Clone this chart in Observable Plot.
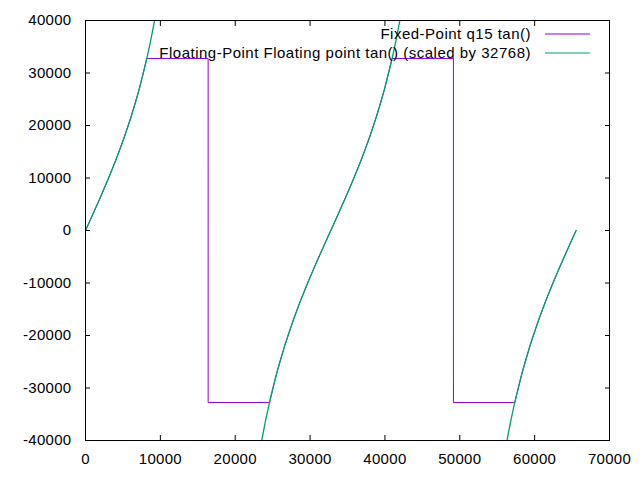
<!DOCTYPE html>
<html>
<head>
<meta charset="utf-8">
<script src="https://cdn.jsdelivr.net/npm/d3@7"></script>
<script src="https://cdn.jsdelivr.net/npm/@observablehq/plot@0.6"></script>
<style>
  html, body { margin: 0; padding: 0; background: #fff; }
  #chart svg { display: block; }
</style>
</head>
<body>
<div id="chart"></div>
<script>
// Tick values
const xTicks = [0, 10000, 20000, 30000, 40000, 50000, 60000, 70000];
const yTicks = [-40000, -30000, -20000, -10000, 0, 10000, 20000, 30000, 40000];

// Series names
const seriesNames = ["Fixed-Point q15 tan()", "Floating-Point Floating point tan() (scaled by 32768)"];
const seriesColors = ["#9400d3", "#009e73"];

// Fixed-point q15 tan() (saturating)
const fixX = [0,1024,2048,3072,4096,5120,6144,7168,8192,16383,16384,24576,25600,26624,27648,28672,29696,30720,31744,32768,33792,34816,35840,36864,37888,38912,39936,40960,49151,49152,57344,58368,59392,60416,61440,62464,63488,64512,65535];
const fixY = [0,3227,6518,9940,13573,17515,21895,26892,32767,32767,-32768,-32768,-26892,-21895,-17515,-13573,-9940,-6518,-3227,0,3227,6518,9940,13573,17515,21895,26892,32767,32767,-32768,-32768,-26892,-21895,-17515,-13573,-9940,-6518,-3227,-3];

// Floating-point tan() scaled by 32768, three branches
const flo1X = [0,1024,2048,3072,4096,5120,6144,7168,8192,8704,9216,9728];
const flo1Y = [0,3227,6518,9940,13573,17515,21895,26892,32768,36154,39928,44137];
const flo2X = [23040,23552,24064,24576,25600,26624,27648,28672,29696,30720,31744,32768,33792,34816,35840,36864,37888,38912,39936,40960,41472,41984,42496];
const flo2Y = [-44137,-39928,-36154,-32768,-26892,-21895,-17515,-13573,-9940,-6518,-3227,0,3227,6518,9940,13573,17515,21895,26892,32768,36154,39928,44137];
const flo3X = [55808,56320,56832,57344,58368,59392,60416,61440,62464,63488,64512,65536];
const flo3Y = [-44137,-39928,-36154,-32768,-26892,-21895,-17515,-13573,-9940,-6518,-3227,0];

const fixData = fixX.map((x, i) => ({x, y: fixY[i]}));
const floData = [
  ...flo1X.map((x, i) => ({x, y: flo1Y[i], b: 1})),
  ...flo2X.map((x, i) => ({x, y: flo2Y[i], b: 2})),
  ...flo3X.map((x, i) => ({x, y: flo3Y[i], b: 3}))
];

const FONT = "'Liberation Sans', Arial, sans-serif";

const plot = Plot.plot({
  width: 640,
  height: 480,
  marginLeft: 85,
  marginRight: 31,
  marginTop: 20,
  marginBottom: 40,
  style: {fontFamily: FONT, fontSize: "15px", background: "#fff", color: "#000", letterSpacing: "0.3px"},
  x: {domain: [0, 70000], ticks: xTicks},
  y: {domain: [-40000, 40000], ticks: yTicks},
  marks: [
    Plot.line(fixData, {x: "x", y: "y", stroke: seriesColors[0], strokeWidth: 1, clip: true}),
    Plot.line(floData, {x: "x", y: "y", z: "b", stroke: seriesColors[1], strokeWidth: 1.3, curve: "catmull-rom", clip: true}),
    Plot.axisX(xTicks, {anchor: "bottom", tickSize: 0, tickPadding: 13, label: null, tickFormat: d => String(d)}),
    Plot.axisY(yTicks, {anchor: "left", tickSize: 0, tickPadding: 14, label: null, tickFormat: d => String(d)}),
    Plot.axisX(xTicks, {anchor: "bottom", tickSize: -5, tickFormat: () => "", label: null}),
    Plot.axisX(xTicks, {anchor: "top", tickSize: -5, tickFormat: () => "", label: null}),
    Plot.axisY(yTicks, {anchor: "left", tickSize: -5, tickFormat: () => "", label: null}),
    Plot.axisY(yTicks, {anchor: "right", tickSize: -5, tickFormat: () => "", label: null}),
    Plot.frame({stroke: "#000", strokeWidth: 1})
  ]
});

// Legend inside top-right of plot area
const svg = d3.select(plot);
const leg = svg.append("g").attr("font-family", FONT).attr("font-size", "15px").attr("letter-spacing", "0.5px");
seriesNames.forEach((name, i) => {
  const y = 34 + i * 19;
  leg.append("text")
    .attr("x", 531).attr("y", y).attr("dy", "0.35em")
    .attr("text-anchor", "end").attr("fill", "#000")
    .text(name);
  leg.append("line")
    .attr("x1", 545).attr("x2", 590).attr("y1", y).attr("y2", y)
    .attr("stroke", seriesColors[i]).attr("stroke-width", 1);
});

document.getElementById("chart").appendChild(plot);
</script>
</body>
</html>
